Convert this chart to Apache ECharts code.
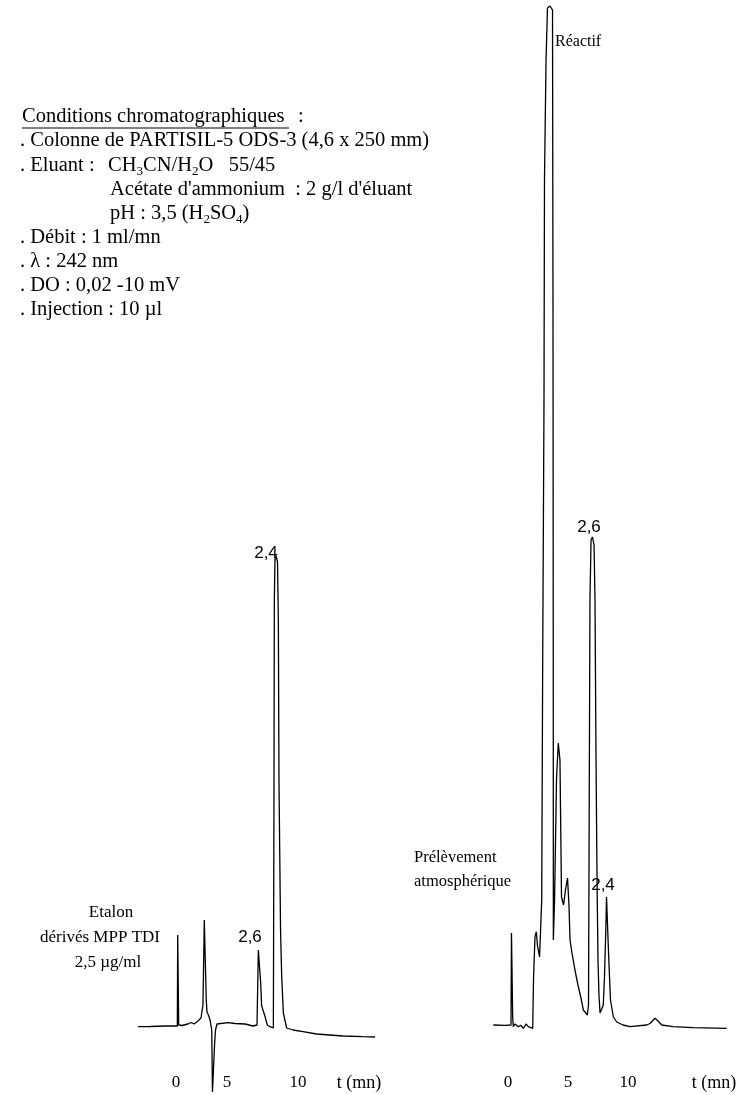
<!DOCTYPE html>
<html>
<head>
<meta charset="utf-8">
<script src="https://cdn.jsdelivr.net/npm/echarts@6/dist/echarts.min.js"></script>
<style>
html,body{margin:0;padding:0;background:#fff;}
#chart{width:744px;height:1095px;}
</style>
</head>
<body>
<div id="chart"></div>
<script>
// Time axis tick labels (min)
const tickValues = [0, 5, 10];

// Standard (Etalon dérivés MPP TDI 2,5 µg/ml): [t (mn), signal]
const etalonSignal = [
  [-3.11,-0.14],[-2.13,-0.1],[-0.90,0],[0.11,0],[0.14,18.2],[0.19,18.2],[0.22,0.2],[0.49,0.1],
  [0.98,0.4],[1.23,0.7],[1.48,0.4],[1.80,1.0],[2.05,1.6],[2.21,4.2],[2.32,21.2],[2.42,21.2],
  [2.48,5.2],[2.54,2.8],[2.66,2.2],[2.79,1.2],[2.93,-0.8],[2.99,-13.2],[3.07,-13.2],[3.16,-3.8],
  [3.24,-0.8],[3.36,0.4],[3.52,0.66],[4.26,0.66],[4.84,0.5],[5.66,0.4],[6.31,0],[6.64,0.2],
  [6.75,15.2],[6.84,15.2],[6.94,8.6],[7.02,4],[7.30,1.9],[7.48,0.2],[7.70,-0.14],[7.98,-0.4],
  [8.03,45.2],[8.06,85.2],[8.11,93.2],[8.20,94],[8.32,92.8],[8.39,81.2],[8.44,49.2],[8.57,19.2],
  [8.66,10.2],[8.80,2.6],[9.07,-0.4],[9.59,-0.8],[10.41,-1.14],[11.53,-1.6],[13.69,-2.0],
  [15.33,-2.14],[16.31,-2.2]
];

// Atmospheric sample (Prélèvement atmosphérique): [t (mn), signal]
const sampleSignal = [
  [-1.225,0.2],[-0.25,0.14],[0.25,0.2],[0.29,18.6],[0.36,18.6],[0.39,1.8],[0.44,-0.14],[0.58,0.4],
  [0.86,-0.14],[1.06,0.14],[1.28,-0.46],[1.5,0.4],[1.69,-0.14],[2.06,-0.46],[2.13,9.86],[2.25,17.86],
  [2.36,18.86],[2.46,16],[2.63,13.8],[2.73,13.8],[2.81,25.2],[2.89,72.6],[3.0,125.2],[3.04,169.2],
  [3.17,193.2],[3.29,203.6],[3.5,204],[3.71,203.2],[3.75,145.2],[3.77,77.6],[3.78,17.2],[3.88,25.2],
  [4.04,49.2],[4.19,56.6],[4.33,53.2],[4.46,25.8],[4.63,24.2],[4.79,27.2],[4.96,29.6],[5.08,24.2],
  [5.17,17.2],[5.33,14.6],[5.58,11.2],[5.83,8.2],[6.08,5.6],[6.28,3.2],[6.61,2.2],[6.71,4.2],
  [6.77,45.2],[6.83,85.2],[6.92,97.2],[7.04,97.8],[7.17,96.2],[7.25,85.2],[7.33,55.2],[7.42,29.2],
  [7.5,13.2],[7.58,6.2],[7.67,2.6],[7.81,2.2],[7.94,4.2],[8.04,9.8],[8.15,19.2],[8.21,25.8],
  [8.29,26.2],[8.36,15.8],[8.46,9.8],[8.54,5.2],[8.78,1.8],[9.06,0.8],[9.58,0.2],[10.17,-0.14],
  [11.56,0.2],[11.83,0.5],[12.25,1.54],[12.5,1.0],[12.81,0.2],[13.75,-0.14],[15.42,-0.34],[18.23,-0.46]
];

const SERIF = '"Liberation Serif", "Times New Roman", serif';
const SANS = '"Liberation Sans", Arial, sans-serif';

const chart = echarts.init(document.getElementById('chart'), null, {renderer: 'canvas'});

function xAx(gi, min, max, shiftFive) {
  return {
    type: 'value', gridIndex: gi, min: min, max: max, interval: 5,
    axisLine: {show: false}, axisTick: {show: false}, splitLine: {show: false},
    axisLabel: {
      margin: 3, color: '#000', fontFamily: SERIF, fontSize: 17,
      showMinLabel: true, showMaxLabel: true,
      formatter: v => {
        if (!tickValues.includes(v)) return '';
        return (shiftFive && v === 5) ? '{sh|' + v + '}' : String(v);
      },
      rich: {sh: {fontFamily: SERIF, fontSize: 17, color: '#000', padding: [0, 20, 0, 0]}}
    }
  };
}
function yAx(gi) {
  return {type: 'value', gridIndex: gi, min: -9, max: 205, show: false};
}
function txt(text, x, y, size, opts) {
  opts = opts || {};
  return {
    type: 'text', x: x, y: y, silent: true,
    style: Object.assign({
      text: text, fill: '#000',
      font: size + 'px ' + (opts.family || SERIF),
      textAlign: opts.align || 'left', textVerticalAlign: 'middle',
      lineHeight: 24,
      rich: {
        s: {fontSize: 13, fontFamily: 'Liberation Serif', verticalAlign: 'bottom', lineHeight: 14}
      }
    }, opts.style || {})
  };
}

const F = 20.5;
const option = {
  backgroundColor: '#fff',
  animation: false,
  grid: [
    {left: 115, width: 268.4, top: 1, height: 1070},
    {left: 448, width: 288, top: 1, height: 1070}
  ],
  xAxis: [xAx(0, -5, 17, true), xAx(1, -5, 19, false)],
  yAxis: [yAx(0), yAx(1)],
  series: [
    {type: 'line', xAxisIndex: 0, yAxisIndex: 0, data: etalonSignal, symbol: 'none', clip: false,
     lineStyle: {color: '#000', width: 1.3}},
    {type: 'line', xAxisIndex: 1, yAxisIndex: 1, data: sampleSignal, symbol: 'none', clip: false,
     lineStyle: {color: '#000', width: 1.3}}
  ],
  graphic: [
    txt('Conditions chromatographiques', 22, 117, F),
    txt(':', 298, 117, F),
    {type: 'line', silent: true, shape: {x1: 22, y1: 128, x2: 289, y2: 128}, style: {stroke: '#000', lineWidth: 1}},
    txt('. Colonne de PARTISIL-5 ODS-3 (4,6 x 250 mm)', 20, 141, F),
    txt('. Eluant :', 20, 166, F),
    txt('CH{s|3}CN/H{s|2}O   55/45', 108, 166, F),
    txt('Acétate d\'ammonium  : 2 g/l d\'éluant', 110, 190, F),
    txt('pH : 3,5 (H{s|2}SO{s|4})', 110, 214, F),
    txt('. Débit : 1 ml/mn', 20, 238, F),
    txt('. λ : 242 nm', 20, 262, F),
    txt('. DO : 0,02 -10 mV', 20, 286, F),
    txt('. Injection : 10 µl', 20, 310, F),

    txt('Réactif', 555, 42, 16),
    txt('2,6', 589, 527, 17, {align: 'center', family: SANS}),
    txt('2,4', 603, 885, 17, {align: 'center', family: SANS}),
    txt('Prélèvement', 414, 858, 16.5),
    txt('atmosphérique', 414, 882, 16.5),

    txt('2,4', 266, 553, 17, {align: 'center', family: SANS}),
    txt('2,6', 250, 937, 17, {align: 'center', family: SANS}),
    txt('Etalon', 111, 913, 17, {align: 'center'}),
    txt('dérivés MPP TDI', 100, 938, 17, {align: 'center'}),
    txt('2,5 µg/ml', 108, 963, 17, {align: 'center'}),

    txt('t (mn)', 359, 1083, 18, {align: 'center'}),
    txt('t (mn)', 714, 1083, 18, {align: 'center'})
  ]
};
chart.setOption(option);
</script>
</body>
</html>
